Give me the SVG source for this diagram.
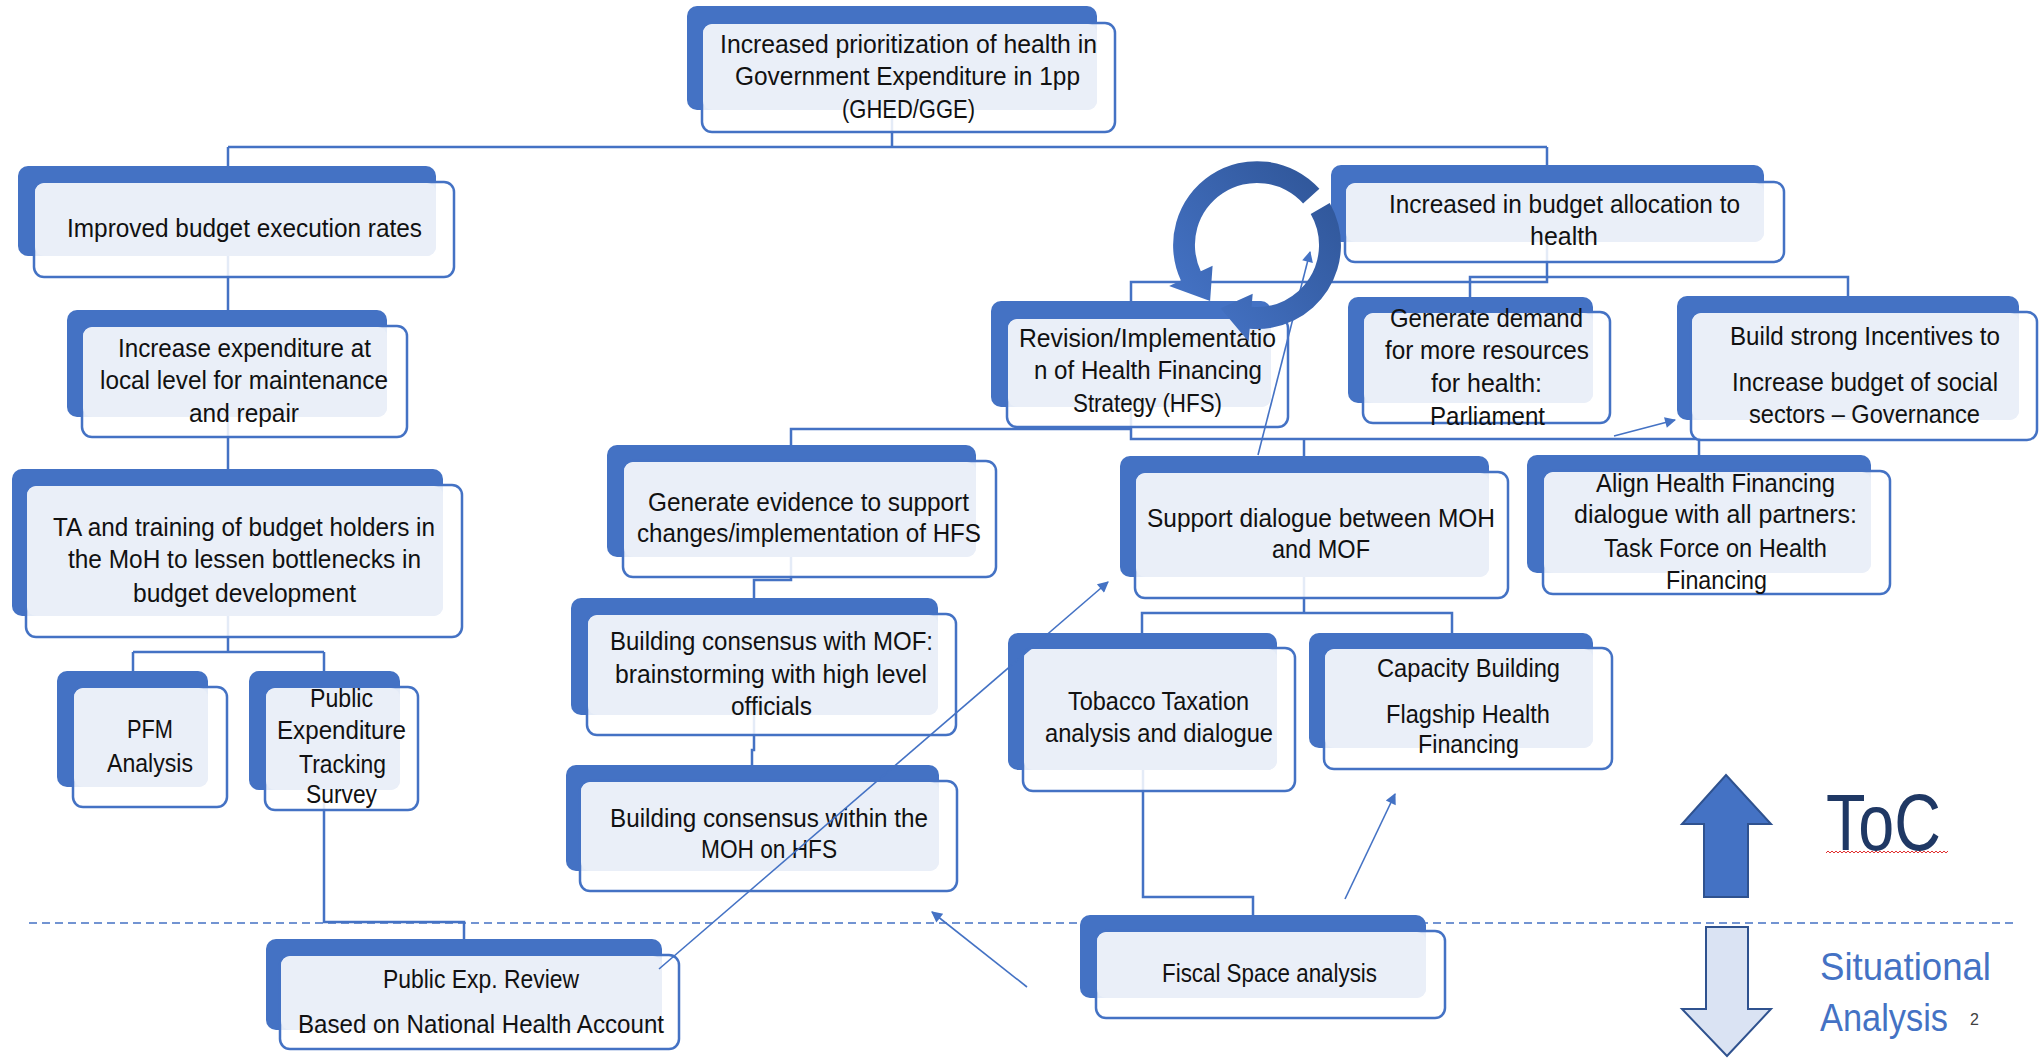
<svg xmlns="http://www.w3.org/2000/svg" width="2041" height="1058" viewBox="0 0 2041 1058">
<style>
.back{fill:#4472C4}
.front{fill:#fff;fill-opacity:.86;stroke:#4472C4;stroke-width:2.5}
.inner{fill:#EAEFF8}
.t{font-family:"Liberation Sans",Arial,sans-serif;font-size:26px;fill:#111}
.conn{fill:none;stroke:#4472C4;stroke-width:2.5}
.arr{fill:none;stroke:#4472C4;stroke-width:1.6;marker-end:url(#ah)}
</style>
<defs>
<marker id="ah" viewBox="0 0 10 10" refX="9" refY="5" markerUnits="userSpaceOnUse" markerWidth="14" markerHeight="11" orient="auto"><path d="M0,0 L10,5 L0,10 z" fill="#4472C4"/></marker>
<linearGradient id="cg" gradientUnits="userSpaceOnUse" x1="1180" y1="300" x2="1330" y2="170"><stop offset="0" stop-color="#4472C4"/><stop offset="1" stop-color="#2F5597"/></linearGradient>
</defs>
<rect width="2041" height="1058" fill="#fff"/>
<path d="M29,923 H2018" fill="none" stroke="#4472C4" stroke-width="1.6" stroke-dasharray="8 5"/>
<g id="connectors">
<path class="conn" d="M892,110 V147 M228,147 H1547 M228,147 V166 M1547,147 V165"/>
<path class="conn" d="M228,256 V310 M228,417 V469"/>
<path class="conn" d="M228,616 V652 M133,652 H324 M133,652 V671 M324,652 V671"/>
<path class="conn" d="M324,790 V922 H464 V939"/>
<path class="conn" d="M1547,242 V282 H1131 V301 M1470,297 V277 H1848 V296"/>
<path class="conn" d="M1131,407 V429 H791 V445 M1131,429 V439 H1699 V455 M1304,439 V456"/>
<path class="conn" d="M791,557 V580 H754 V598 M754,715 V750 H752 V765"/>
<path class="conn" d="M1304,577 V613 H1142 V633 M1304,613 H1452 V633"/>
<path class="conn" d="M1143,770 V897 H1253 V915"/>
</g>
<g id="n-top">
<rect class="back" x="687" y="6" width="410" height="104" rx="10"/>
<rect class="front" x="702" y="23" width="413" height="109" rx="10"/>
<rect class="inner" x="703" y="24" width="394" height="86" rx="9"/>
<text class="t" x="720" y="53" textLength="377" lengthAdjust="spacingAndGlyphs">Increased prioritization of health in</text>
<text class="t" x="735" y="85" textLength="345" lengthAdjust="spacingAndGlyphs">Government Expenditure in 1pp</text>
<text class="t" x="842" y="118" textLength="133" lengthAdjust="spacingAndGlyphs">(GHED/GGE)</text>
</g>
<g id="n-exec">
<rect class="back" x="18" y="166" width="418" height="90" rx="10"/>
<rect class="front" x="34" y="182" width="420" height="95" rx="10"/>
<rect class="inner" x="35" y="183" width="401" height="73" rx="9"/>
<text class="t" x="67" y="237" textLength="355" lengthAdjust="spacingAndGlyphs">Improved budget execution rates</text>
</g>
<g id="n-local">
<rect class="back" x="67" y="310" width="320" height="107" rx="10"/>
<rect class="front" x="82" y="326" width="325" height="111" rx="10"/>
<rect class="inner" x="83" y="327" width="304" height="90" rx="9"/>
<text class="t" x="118" y="357" textLength="253" lengthAdjust="spacingAndGlyphs">Increase expenditure at</text>
<text class="t" x="100" y="389" textLength="288" lengthAdjust="spacingAndGlyphs">local level for maintenance</text>
<text class="t" x="189" y="422" textLength="110" lengthAdjust="spacingAndGlyphs">and repair</text>
</g>
<g id="n-ta">
<rect class="back" x="12" y="469" width="431" height="147" rx="10"/>
<rect class="front" x="26" y="485" width="436" height="152" rx="10"/>
<rect class="inner" x="27" y="486" width="416" height="130" rx="9"/>
<text class="t" x="53" y="536" textLength="382" lengthAdjust="spacingAndGlyphs">TA and training of budget holders in</text>
<text class="t" x="68" y="568" textLength="353" lengthAdjust="spacingAndGlyphs">the MoH to lessen bottlenecks in</text>
<text class="t" x="133" y="602" textLength="223" lengthAdjust="spacingAndGlyphs">budget development</text>
</g>
<g id="n-pfm">
<rect class="back" x="57" y="671" width="151" height="116" rx="10"/>
<rect class="front" x="73" y="687" width="154" height="120" rx="10"/>
<rect class="inner" x="74" y="688" width="134" height="99" rx="9"/>
<text class="t" x="127" y="738" textLength="46" lengthAdjust="spacingAndGlyphs">PFM</text>
<text class="t" x="107" y="772" textLength="86" lengthAdjust="spacingAndGlyphs">Analysis</text>
</g>
<g id="n-pets">
<rect class="back" x="249" y="671" width="151" height="119" rx="10"/>
<rect class="front" x="265" y="687" width="153" height="123" rx="10"/>
<rect class="inner" x="266" y="688" width="134" height="102" rx="9"/>
<text class="t" x="310" y="707" textLength="63" lengthAdjust="spacingAndGlyphs">Public</text>
<text class="t" x="277" y="739" textLength="129" lengthAdjust="spacingAndGlyphs">Expenditure</text>
<text class="t" x="299" y="773" textLength="87" lengthAdjust="spacingAndGlyphs">Tracking</text>
<text class="t" x="306" y="803" textLength="71" lengthAdjust="spacingAndGlyphs">Survey</text>
</g>
<g id="n-per">
<rect class="back" x="266" y="939" width="396" height="91" rx="10"/>
<rect class="front" x="280" y="955" width="399" height="94" rx="10"/>
<rect class="inner" x="281" y="956" width="381" height="74" rx="9"/>
<text class="t" x="383" y="988" textLength="196" lengthAdjust="spacingAndGlyphs">Public Exp. Review</text>
<text class="t" x="298" y="1033" textLength="366" lengthAdjust="spacingAndGlyphs">Based on National Health Account</text>
</g>
<g id="n-alloc">
<rect class="back" x="1331" y="165" width="433" height="77" rx="10"/>
<rect class="front" x="1345" y="182" width="439" height="80" rx="10"/>
<rect class="inner" x="1346" y="183" width="418" height="59" rx="9"/>
<text class="t" x="1389" y="213" textLength="351" lengthAdjust="spacingAndGlyphs">Increased in budget allocation to</text>
<text class="t" x="1530" y="245" textLength="68" lengthAdjust="spacingAndGlyphs">health</text>
</g>
<g id="n-demand">
<rect class="back" x="1348" y="297" width="245" height="106" rx="10"/>
<rect class="front" x="1363" y="312" width="247" height="111" rx="10"/>
<rect class="inner" x="1364" y="313" width="229" height="90" rx="9"/>
<text class="t" x="1390" y="327" textLength="193" lengthAdjust="spacingAndGlyphs">Generate demand</text>
<text class="t" x="1385" y="359" textLength="204" lengthAdjust="spacingAndGlyphs">for more resources</text>
<text class="t" x="1431" y="392" textLength="111" lengthAdjust="spacingAndGlyphs">for health:</text>
<text class="t" x="1430" y="425" textLength="115" lengthAdjust="spacingAndGlyphs">Parliament</text>
</g>
<g id="n-incent">
<rect class="back" x="1677" y="296" width="342" height="124" rx="10"/>
<rect class="front" x="1691" y="312" width="346" height="128" rx="10"/>
<rect class="inner" x="1692" y="313" width="327" height="107" rx="9"/>
<text class="t" x="1730" y="345" textLength="270" lengthAdjust="spacingAndGlyphs">Build strong Incentives to</text>
<text class="t" x="1732" y="391" textLength="266" lengthAdjust="spacingAndGlyphs">Increase budget of social</text>
<text class="t" x="1749" y="423" textLength="231" lengthAdjust="spacingAndGlyphs">sectors – Governance</text>
</g>
<g id="n-hfs">
<rect class="back" x="991" y="301" width="280" height="106" rx="10"/>
<rect class="front" x="1007" y="318" width="281" height="109" rx="10"/>
<rect class="inner" x="1008" y="319" width="263" height="88" rx="9"/>
<text class="t" x="1019" y="347" textLength="257" lengthAdjust="spacingAndGlyphs">Revision/Implementatio</text>
<text class="t" x="1034" y="379" textLength="228" lengthAdjust="spacingAndGlyphs">n of Health Financing</text>
<text class="t" x="1073" y="412" textLength="149" lengthAdjust="spacingAndGlyphs">Strategy (HFS)</text>
</g>
<g id="n-evidence">
<rect class="back" x="607" y="445" width="369" height="112" rx="10"/>
<rect class="front" x="623" y="461" width="373" height="116" rx="10"/>
<rect class="inner" x="624" y="462" width="352" height="95" rx="9"/>
<text class="t" x="648" y="511" textLength="321" lengthAdjust="spacingAndGlyphs">Generate evidence to support</text>
<text class="t" x="637" y="542" textLength="344" lengthAdjust="spacingAndGlyphs">changes/implementation of HFS</text>
</g>
<g id="n-mof">
<rect class="back" x="571" y="598" width="367" height="117" rx="10"/>
<rect class="front" x="587" y="614" width="369" height="121" rx="10"/>
<rect class="inner" x="588" y="615" width="350" height="100" rx="9"/>
<text class="t" x="610" y="650" textLength="323" lengthAdjust="spacingAndGlyphs">Building consensus with MOF:</text>
<text class="t" x="615" y="683" textLength="312" lengthAdjust="spacingAndGlyphs">brainstorming with high level</text>
<text class="t" x="731" y="715" textLength="81" lengthAdjust="spacingAndGlyphs">officials</text>
</g>
<g id="n-moh">
<rect class="back" x="566" y="765" width="373" height="106" rx="10"/>
<rect class="front" x="580" y="781" width="377" height="110" rx="10"/>
<rect class="inner" x="581" y="782" width="358" height="89" rx="9"/>
<text class="t" x="610" y="827" textLength="318" lengthAdjust="spacingAndGlyphs">Building consensus within the</text>
<text class="t" x="701" y="858" textLength="136" lengthAdjust="spacingAndGlyphs">MOH on HFS</text>
</g>
<g id="n-dialogue">
<rect class="back" x="1120" y="456" width="369" height="121" rx="10"/>
<rect class="front" x="1135" y="472" width="373" height="126" rx="10"/>
<rect class="inner" x="1136" y="473" width="353" height="104" rx="9"/>
<text class="t" x="1147" y="527" textLength="348" lengthAdjust="spacingAndGlyphs">Support dialogue between MOH</text>
<text class="t" x="1272" y="558" textLength="98" lengthAdjust="spacingAndGlyphs">and MOF</text>
</g>
<g id="n-align">
<rect class="back" x="1527" y="455" width="344" height="118" rx="10"/>
<rect class="front" x="1543" y="471" width="347" height="123" rx="10"/>
<rect class="inner" x="1544" y="472" width="327" height="101" rx="9"/>
<text class="t" x="1596" y="492" textLength="239" lengthAdjust="spacingAndGlyphs">Align Health Financing</text>
<text class="t" x="1574" y="523" textLength="283" lengthAdjust="spacingAndGlyphs">dialogue with all partners:</text>
<text class="t" x="1604" y="557" textLength="223" lengthAdjust="spacingAndGlyphs">Task Force on Health</text>
<text class="t" x="1666" y="589" textLength="101" lengthAdjust="spacingAndGlyphs">Financing</text>
</g>
<g id="n-tobacco">
<rect class="back" x="1008" y="633" width="269" height="137" rx="10"/>
<rect class="front" x="1023" y="648" width="272" height="143" rx="10"/>
<rect class="inner" x="1024" y="649" width="253" height="121" rx="9"/>
<text class="t" x="1068" y="710" textLength="181" lengthAdjust="spacingAndGlyphs">Tobacco Taxation</text>
<text class="t" x="1045" y="742" textLength="228" lengthAdjust="spacingAndGlyphs">analysis and dialogue</text>
</g>
<g id="n-capacity">
<rect class="back" x="1309" y="633" width="284" height="115" rx="10"/>
<rect class="front" x="1324" y="648" width="288" height="121" rx="10"/>
<rect class="inner" x="1325" y="649" width="268" height="99" rx="9"/>
<text class="t" x="1377" y="677" textLength="183" lengthAdjust="spacingAndGlyphs">Capacity Building</text>
<text class="t" x="1386" y="723" textLength="164" lengthAdjust="spacingAndGlyphs">Flagship Health</text>
<text class="t" x="1418" y="753" textLength="101" lengthAdjust="spacingAndGlyphs">Financing</text>
</g>
<g id="n-fiscal">
<rect class="back" x="1080" y="915" width="346" height="83" rx="10"/>
<rect class="front" x="1096" y="931" width="349" height="87" rx="10"/>
<rect class="inner" x="1097" y="932" width="329" height="66" rx="9"/>
<text class="t" x="1162" y="982" textLength="215" lengthAdjust="spacingAndGlyphs">Fiscal Space analysis</text>
</g>
<g id="arrows">
<path class="arr" d="M659,969 L1108,582"/>
<path class="arr" d="M1027,987 L932,912"/>
<path class="arr" d="M1345,899 L1395,794"/>
<path class="arr" d="M1258,455 L1310,252"/>
<path class="arr" d="M1614,436 L1675,420"/>
</g>
<g id="cycle">
<path fill="url(#cg)" d="M1319.4,188.8 A84,84 0 0 0 1180.9,280.5 L1169.1,286.0 L1210.1,300.9 L1212.6,265.7 L1200.8,271.2 A62,62 0 0 1 1303.1,203.5 Z"/>
<path fill="url(#cg)" d="M1329.7,203 A84,84 0 0 1 1249.7,328.7 L1248.5,341.6 L1220.5,308.2 L1252.7,293.8 L1251.6,306.8 A62,62 0 0 0 1310.7,214 Z"/>
</g>
<g id="legend">
<polygon points="1726,775 1771,824 1748,824 1748,897 1704,897 1704,824 1682,824" fill="#4472C4" stroke="#2F528F" stroke-width="2"/>
<polygon points="1706,927 1748,927 1748,1009 1771,1009 1727,1056 1682,1009 1706,1009" fill="#DAE3F3" stroke="#2F528F" stroke-width="2"/>
<text x="1826" y="850" textLength="115" lengthAdjust="spacingAndGlyphs" style="font-family:'Liberation Sans',Arial,sans-serif;font-size:79px;fill:#1F3864">ToC</text>
<path d="M1826,853 l2,-2 l2,2 l2,-2 l2,2 l2,-2 l2,2 l2,-2 l2,2 l2,-2 l2,2 l2,-2 l2,2 l2,-2 l2,2 l2,-2 l2,2 l2,-2 l2,2 l2,-2 l2,2 l2,-2 l2,2 l2,-2 l2,2 l2,-2 l2,2 l2,-2 l2,2 l2,-2 l2,2 l2,-2 l2,2 l2,-2 l2,2 l2,-2 l2,2 l2,-2 l2,2 l2,-2 l2,2 l2,-2 l2,2 l2,-2 l2,2 l2,-2 l2,2 l2,-2 l2,2 l2,-2 l2,2 l2,-2 l2,2 l2,-2 l2,2 l2,-2 l2,2 l2,-2 l2,2 l2,-2 l2,2 l2,-2" fill="none" stroke="#E03030" stroke-width="1"/>
<text x="1820" y="980" textLength="171" lengthAdjust="spacingAndGlyphs" style="font-family:'Liberation Sans',Arial,sans-serif;font-size:38px;fill:#4472C4">Situational</text>
<text x="1820" y="1031" textLength="128" lengthAdjust="spacingAndGlyphs" style="font-family:'Liberation Sans',Arial,sans-serif;font-size:38px;fill:#4472C4">Analysis</text>
<text x="1970" y="1025" style="font-family:'Liberation Sans',Arial,sans-serif;font-size:16px;fill:#404040">2</text>
</g>
</svg>
